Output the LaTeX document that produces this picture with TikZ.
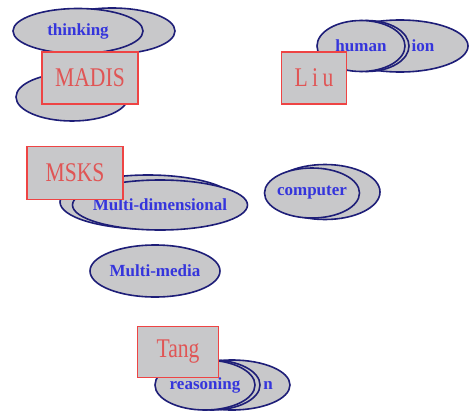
\documentclass[tikz,border=0pt]{standalone}
\usepackage{fontspec}
\setmainfont{Liberation Serif}
\newfontfamily\boxfont[FakeStretch=0.8]{Liberation Serif}
\usepackage{tikz}
\usetikzlibrary{shapes}
\definecolor{shapeColor}{HTML}{C8C8CA}
\definecolor{ovalLine}{HTML}{1E1E78}
\definecolor{ovalText}{HTML}{3535DC}
\definecolor{boxLine}{HTML}{EE4444}
\definecolor{boxText}{HTML}{E05555}
\tikzstyle{oval}=[ellipse, draw=ovalLine, fill=shapeColor, line width=1.6pt, inner sep=0pt, inner xsep=-14pt, text=ovalText, font=\fontsize{17}{19}\selectfont\bfseries]
\tikzstyle{namebox}=[rectangle, draw=boxLine, fill=shapeColor, line width=1.5pt, inner sep=0pt, text=boxText, font=\boxfont\fontsize{27}{29}\selectfont]
\tikzstyle{ovallabel}=[text=ovalText, font=\fontsize{17}{19}\selectfont\bfseries]

\begin{document}
\begin{tikzpicture}[x=1pt, y=-1pt]
			\useasboundingbox (0,0) rectangle (470,412);
			
			% MADIS
			\node (thinking back) [oval, minimum width=126pt, minimum height=46pt] at (112,31) {};
			\node (thinking) [oval, minimum width=130pt, minimum height=45pt] at (78,31) {thinking};
			\node (MADIS under) [oval, minimum width=112pt, minimum height=48pt] at (72,97) {};
			\node (MADIS) [namebox, minimum width=96pt, minimum height=52pt] at (90,78) {MADIS};
			
			% Liu
			\node (interaction) [oval, minimum width=136pt, minimum height=52pt, label={[ovallabel, xshift=23pt]center:ion}] at (400,46) {};
			\node (human back) [oval, minimum width=84pt, minimum height=51pt] at (367,46) {};
			\node (human) [oval, minimum width=88pt, minimum height=51pt] at (361,46) {human};
			\node (Liu) [namebox, minimum width=65pt, minimum height=52pt] at (314,78) {L\,i\,u};
			
			% MSKS
			\node (dimensional back) [oval, minimum width=176pt, minimum height=54pt] at (148,202) {};
			\node (dimensional) [oval, minimum width=175pt, minimum height=50pt] at (160,205) {Multi-dimensional};
			\node (MSKS) [namebox, minimum width=96pt, minimum height=53pt] at (75,173) {MSKS};
			\node (media) [oval, minimum width=130pt, minimum height=52pt] at (155,271) {Multi-media};
			
			% computer
			\node (computer back) [oval, minimum width=110pt, minimum height=55pt] at (325,192) {};
			\node (computer) [oval, minimum width=95pt, minimum height=50pt] at (312,193) {computer};
			
			% Tang
			\node (reasoning last) [oval, minimum width=116pt, minimum height=50pt, label={[ovallabel, xshift=36pt]center:n}] at (232,385) {};
			\node (reasoning back) [oval, minimum width=96pt, minimum height=50pt] at (212,385) {};
			\node (reasoning) [oval, minimum width=100pt, minimum height=50pt] at (205,385) {reasoning};
			\node (Tang) [namebox, minimum width=81pt, minimum height=51pt] at (178,352) {Tang};
			
\end{tikzpicture}
\end{document}
